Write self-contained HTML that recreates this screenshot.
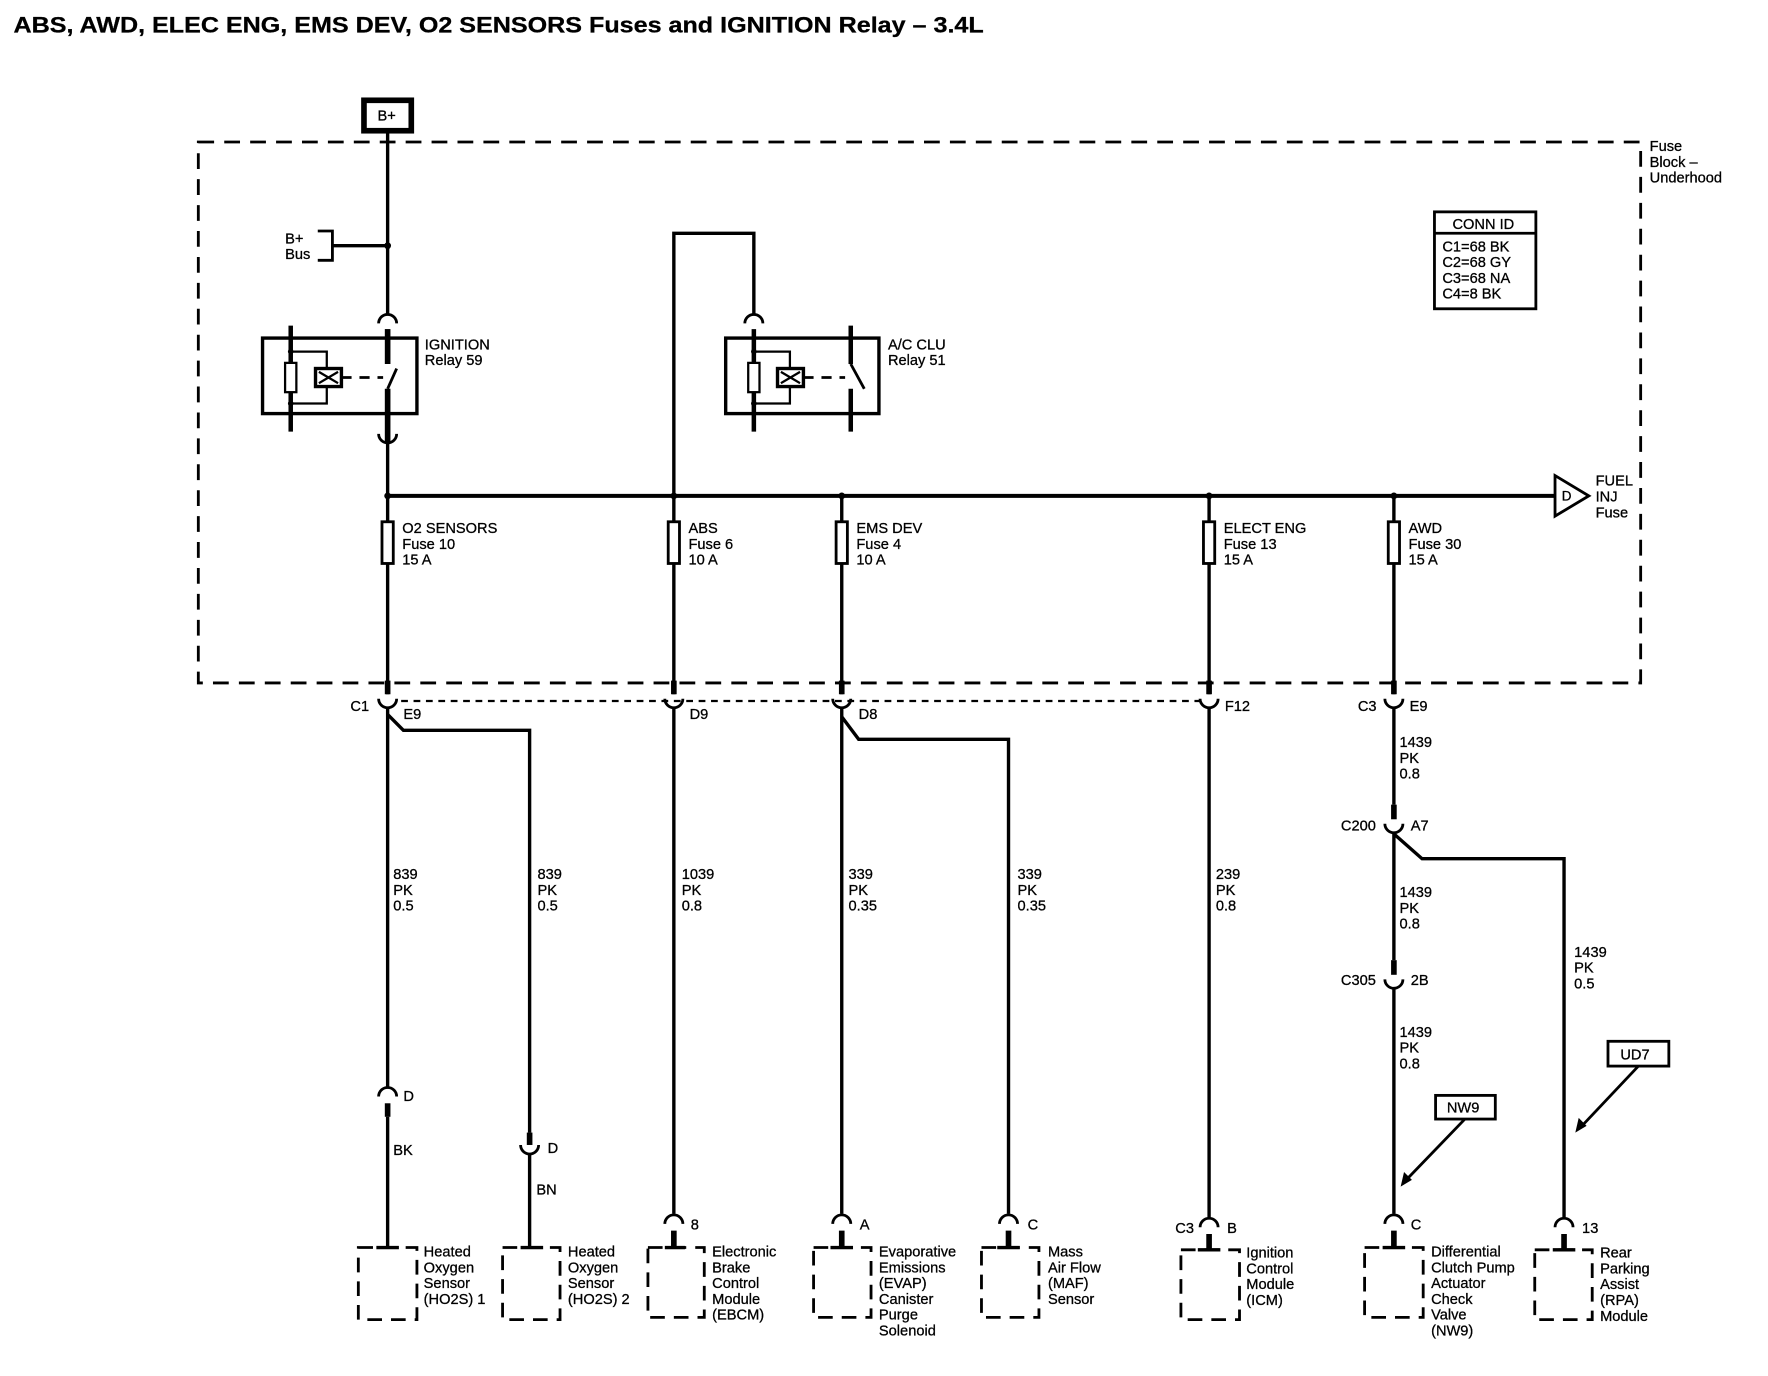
<!DOCTYPE html>
<html><head><meta charset="utf-8"><style>
html,body{margin:0;padding:0;background:#fff;}
svg{display:block;}
text{font-family:"Liberation Sans Narrow","Liberation Sans",sans-serif;font-size:13px;fill:#000;stroke:#000;stroke-width:0.25;}
</style></head><body>
<svg width="1768" height="1376" viewBox="0 0 1569 1221" preserveAspectRatio="none" xmlns="http://www.w3.org/2000/svg">
<rect x="0" y="0" width="1569" height="1221" fill="#fff"/>
<text x="12" y="29" textLength="861" lengthAdjust="spacingAndGlyphs" style="font-family:'Liberation Sans',sans-serif;font-size:20px;font-weight:bold">ABS, AWD, ELEC ENG, EMS DEV, O2 SENSORS Fuses and IGNITION Relay – 3.4L</text>

<g fill="none" stroke="#000">
<path d="M176,126 H1456 V606 H176 Z" stroke-width="2.5" stroke-dasharray="14,9"/>
<rect x="323" y="89" width="42" height="27" stroke-width="5"/>
<path d="M344,116 V280" stroke-width="3"/>
<path d="M336,287 A8,8 0 0 1 352,287" stroke-width="2.5"/>
<path d="M344,292 V323" stroke-width="5"/>
<path d="M344,345 L352,327" stroke-width="2.5"/>
<path d="M344,345 V392" stroke-width="5"/>
<path d="M336,385 A8,8 0 0 0 352,385" stroke-width="2.5"/>
<path d="M344,392 V616" stroke-width="3"/>
<path d="M282,205 H295 V231 H282" stroke-width="2.5"/>
<path d="M295,218 H344" stroke-width="3"/>
<rect x="233" y="300" width="137" height="67" stroke-width="3"/>
<path d="M258,289 V383" stroke-width="4"/>
<path d="M258,312 H290 V327 M258,358 H290 V343" stroke-width="2"/>
<rect x="253" y="322" width="10" height="26" stroke-width="2" fill="#fff"/>
<rect x="280" y="327" width="23" height="16" stroke-width="3"/>
<path d="M283,330 L300,340 M283,340 L300,330" stroke-width="2"/>
<path d="M303,335 H340" stroke-width="2.5" stroke-dasharray="9,7"/>
<path d="M598,440 V207 H669 V280" stroke-width="3"/>
<path d="M661,287 A8,8 0 0 1 677,287" stroke-width="2.5"/>
<rect x="644" y="300" width="136" height="67" stroke-width="3"/>
<path d="M669,292 V383 M755,289 V323 M755,345 V383" stroke-width="4"/>
<path d="M755,323 L767,345" stroke-width="2.5"/>
<path d="M669,312 H701 V327 M669,358 H701 V343" stroke-width="2"/>
<rect x="664" y="322" width="10" height="26" stroke-width="2" fill="#fff"/>
<rect x="690" y="327" width="23" height="16" stroke-width="3"/>
<path d="M693,330 L710,340 M693,340 L710,330" stroke-width="2"/>
<path d="M713,335 H750" stroke-width="2.5" stroke-dasharray="9,7"/>
<path d="M344,440 H1380" stroke-width="3.5"/>
<path d="M1380,422 L1410,440 L1380,458 Z" stroke-width="2.5"/>
<path d="M598,440 V616 M747,440 V616 M1073,440 V616 M1237,440 V616" stroke-width="3"/>
<rect x="339" y="463" width="10" height="37" stroke-width="2.5" fill="#fff"/>
<rect x="593" y="463" width="10" height="37" stroke-width="2.5" fill="#fff"/>
<rect x="742" y="463" width="10" height="37" stroke-width="2.5" fill="#fff"/>
<rect x="1068" y="463" width="10" height="37" stroke-width="2.5" fill="#fff"/>
<rect x="1232" y="463" width="10" height="37" stroke-width="2.5" fill="#fff"/>
<path d="M344,604 V616 M598,604 V616 M747,604 V616 M1073,604 V616 M1237,604 V616" stroke-width="5"/>
<path d="M336,620 A8,8 0 0 0 352,620 M590,620 A8,8 0 0 0 606,620 M739,620 A8,8 0 0 0 755,620 M1065,620 A8,8 0 0 0 1081,620 M1229,620 A8,8 0 0 0 1245,620" stroke-width="2.5"/>
<path d="M356,622 H1065" stroke-width="2" stroke-dasharray="6,5"/>
<path d="M344,628 V966" stroke-width="3"/>
<path d="M336,973 A8,8 0 0 1 352,973" stroke-width="2.5"/>
<path d="M344,979 V991" stroke-width="5"/>
<path d="M344,991 V1106" stroke-width="3"/>
<path d="M344,634 L358,648 H470 V1005" stroke-width="3"/>
<path d="M470,1005 V1016" stroke-width="5"/>
<path d="M462,1016 A8,8 0 0 0 478,1016" stroke-width="2.5"/>
<path d="M470,1024 V1106" stroke-width="3"/>
<path d="M598,628 V1077" stroke-width="3"/>
<path d="M747,628 V1077" stroke-width="3"/>
<path d="M747,636 L762,656 H895 V1077" stroke-width="3"/>
<path d="M1073,628 V1080" stroke-width="3"/>
<path d="M1237,628 V714" stroke-width="3"/>
<path d="M1237,714 V727" stroke-width="5"/>
<path d="M1229,731 A8,8 0 0 0 1245,731" stroke-width="2.5"/>
<path d="M1237,739 V852" stroke-width="3"/>
<path d="M1237,740 L1262,762 H1388 V1080" stroke-width="3"/>
<path d="M1237,852 V865" stroke-width="5"/>
<path d="M1229,869 A8,8 0 0 0 1245,869" stroke-width="2.5"/>
<path d="M1237,877 V1077" stroke-width="3"/>
<path d="M590,1086 A8,8 0 0 1 606,1086 M739,1086 A8,8 0 0 1 755,1086 M887,1086 A8,8 0 0 1 903,1086 M1065,1089 A8,8 0 0 1 1081,1089 M1229,1086 A8,8 0 0 1 1245,1086 M1380,1089 A8,8 0 0 1 1396,1089" stroke-width="2.5"/>
<path d="M598,1092 V1106 M747,1092 V1106 M895,1092 V1106 M1073,1095 V1109 M1237,1092 V1106 M1388,1095 V1109" stroke-width="5"/>
<g stroke-width="2.5" stroke-dasharray="13,8">
<rect x="318" y="1107" width="52" height="64"/>
<rect x="446" y="1107" width="51" height="64"/>
<rect x="575" y="1107" width="50" height="62"/>
<rect x="722" y="1107" width="51" height="62"/>
<rect x="871" y="1107" width="51" height="62"/>
<rect x="1048" y="1109" width="52" height="62"/>
<rect x="1211" y="1107" width="52" height="62"/>
<rect x="1362" y="1109" width="51" height="62"/>
</g>
<path d="M334,1107 H354 M462,1107 H482 M590,1107 H608 M737,1107 H757 M885,1107 H905 M1063,1109 H1083 M1227,1107 H1247 M1378,1109 H1398" stroke-width="3"/>
<rect x="1273" y="188" width="90" height="86" stroke-width="2.5"/>
<path d="M1273,207 H1363" stroke-width="2.5"/>
<rect x="1274" y="972" width="53" height="21" stroke-width="2.5"/>
<path d="M1300,993 L1247,1048" stroke-width="2.5"/>
<rect x="1427" y="924" width="54" height="22" stroke-width="2.5"/>
<path d="M1454,946 L1403,1000" stroke-width="2.5"/>
</g>
<g fill="#000">
<circle cx="344" cy="218" r="3"/><circle cx="344" cy="440" r="3"/><circle cx="598" cy="440" r="3"/>
<circle cx="747" cy="440" r="3"/><circle cx="1073" cy="440" r="3"/><circle cx="1237" cy="440" r="3"/>
<circle cx="258" cy="312" r="2.5"/><circle cx="258" cy="358" r="2.5"/><circle cx="669" cy="312" r="2.5"/><circle cx="669" cy="358" r="2.5"/>
<path d="M1243,1053 L1246,1040 L1253,1047 Z"/>
<path d="M1398,1005 L1401,992 L1408,999 Z"/>
</g>

<text x="335" y="107">B+</text>
<text x="253" y="216">B+</text><text x="253" y="230">Bus</text>
<text x="377" y="310">IGNITION</text><text x="377" y="324">Relay 59</text>
<text x="788" y="310">A/C CLU</text><text x="788" y="324">Relay 51</text>
<text x="1386" y="444" style="font-size:12px">D</text>
<text x="1416" y="431">FUEL</text><text x="1416" y="445">INJ</text><text x="1416" y="459">Fuse</text>
<text x="1464" y="134">Fuse</text><text x="1464" y="148">Block –</text><text x="1464" y="162">Underhood</text>
<text x="1289" y="203">CONN ID</text>
<text x="1280" y="223">C1=68 BK</text><text x="1280" y="237">C2=68 GY</text><text x="1280" y="251">C3=68 NA</text><text x="1280" y="265">C4=8 BK</text>

<text x="357" y="473">O2 SENSORS</text><text x="357" y="487">Fuse 10</text><text x="357" y="501">15 A</text>
<text x="611" y="473">ABS</text><text x="611" y="487">Fuse 6</text><text x="611" y="501">10 A</text>
<text x="760" y="473">EMS DEV</text><text x="760" y="487">Fuse 4</text><text x="760" y="501">10 A</text>
<text x="1086" y="473">ELECT ENG</text><text x="1086" y="487">Fuse 13</text><text x="1086" y="501">15 A</text>
<text x="1250" y="473">AWD</text><text x="1250" y="487">Fuse 30</text><text x="1250" y="501">15 A</text>

<text x="311" y="631">C1</text><text x="358" y="638">E9</text>
<text x="612" y="638">D9</text><text x="762" y="638">D8</text>
<text x="1087" y="631">F12</text><text x="1205" y="631">C3</text><text x="1251" y="631">E9</text>

<text x="349" y="780">839</text><text x="349" y="794">PK</text><text x="349" y="808">0.5</text>
<text x="477" y="780">839</text><text x="477" y="794">PK</text><text x="477" y="808">0.5</text>
<text x="605" y="780">1039</text><text x="605" y="794">PK</text><text x="605" y="808">0.8</text>
<text x="753" y="780">339</text><text x="753" y="794">PK</text><text x="753" y="808">0.35</text>
<text x="903" y="780">339</text><text x="903" y="794">PK</text><text x="903" y="808">0.35</text>
<text x="1079" y="780">239</text><text x="1079" y="794">PK</text><text x="1079" y="808">0.8</text>
<text x="1242" y="663">1439</text><text x="1242" y="677">PK</text><text x="1242" y="691">0.8</text>
<text x="1190" y="737">C200</text><text x="1252" y="737">A7</text>
<text x="1242" y="796">1439</text><text x="1242" y="810">PK</text><text x="1242" y="824">0.8</text>
<text x="1190" y="874">C305</text><text x="1252" y="874">2B</text>
<text x="1242" y="920">1439</text><text x="1242" y="934">PK</text><text x="1242" y="948">0.8</text>
<text x="1397" y="849">1439</text><text x="1397" y="863">PK</text><text x="1397" y="877">0.5</text>
<text x="1284" y="987">NW9</text><text x="1438" y="940">UD7</text>

<text x="358" y="977">D</text><text x="349" y="1025">BK</text>
<text x="486" y="1023">D</text><text x="476" y="1060">BN</text>
<text x="613" y="1091">8</text><text x="763" y="1091">A</text><text x="912" y="1091">C</text>
<text x="1043" y="1094">C3</text><text x="1089" y="1094">B</text>
<text x="1252" y="1091">C</text><text x="1404" y="1094">13</text>

<text x="376" y="1115">Heated</text><text x="376" y="1129">Oxygen</text><text x="376" y="1143">Sensor</text><text x="376" y="1157">(HO2S) 1</text>
<text x="504" y="1115">Heated</text><text x="504" y="1129">Oxygen</text><text x="504" y="1143">Sensor</text><text x="504" y="1157">(HO2S) 2</text>
<text x="632" y="1115">Electronic</text><text x="632" y="1129">Brake</text><text x="632" y="1143">Control</text><text x="632" y="1157">Module</text><text x="632" y="1171">(EBCM)</text>
<text x="780" y="1115">Evaporative</text><text x="780" y="1129">Emissions</text><text x="780" y="1143">(EVAP)</text><text x="780" y="1157">Canister</text><text x="780" y="1171">Purge</text><text x="780" y="1185">Solenoid</text>
<text x="930" y="1115">Mass</text><text x="930" y="1129">Air Flow</text><text x="930" y="1143">(MAF)</text><text x="930" y="1157">Sensor</text>
<text x="1106" y="1116">Ignition</text><text x="1106" y="1130">Control</text><text x="1106" y="1144">Module</text><text x="1106" y="1158">(ICM)</text>
<text x="1270" y="1115">Differential</text><text x="1270" y="1129">Clutch Pump</text><text x="1270" y="1143">Actuator</text><text x="1270" y="1157">Check</text><text x="1270" y="1171">Valve</text><text x="1270" y="1185">(NW9)</text>
<text x="1420" y="1116">Rear</text><text x="1420" y="1130">Parking</text><text x="1420" y="1144">Assist</text><text x="1420" y="1158">(RPA)</text><text x="1420" y="1172">Module</text>
</svg>
</body></html>
